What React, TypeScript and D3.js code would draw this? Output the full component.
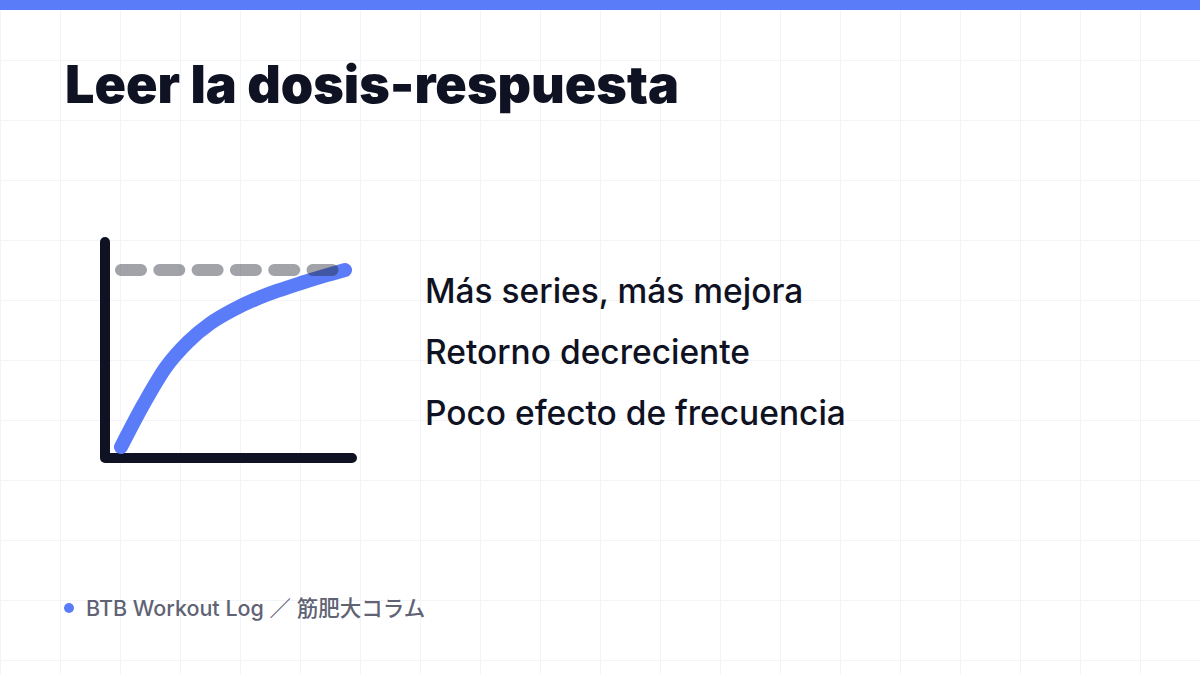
import { scaleLinear, line as d3Line, curveMonotoneX, range } from 'd3';

// dose (sets) vs. response
const doses = [0, 1, 2, 3, 4, 5, 6, 7, 8, 9, 10];
const responses = [0, 24, 45, 59.5, 70, 77.5, 83.5, 88.3, 92.5, 96.4, 100];
const plateau = 100;

const title = 'Leer la dosis-respuesta';
const bullets = ['Más series, más mejora', 'Retorno decreciente', 'Poco efecto de frecuencia'];
const footer = 'BTB Workout Log ／ 筋肥大コラム';

const W = 1200;
const H = 675;
const BLUE = '#5b7cf9';
const INK = '#0f1222';
const FONT = 'Inter, "Noto Sans CJK JP", sans-serif';

// axes box of the little diagram
const BOX = { left: 105, right: 352, top: 242, bottom: 458 };

const App = () => {
  const xScale = scaleLinear().domain([0, 10]).range([121, 345]);
  const yScale = scaleLinear().domain([0, 100]).range([447, 270]);

  const curve = d3Line<number>()
    .x((_, i) => xScale(doses[i]))
    .y((d) => yScale(d))
    .curve(curveMonotoneX);

  const gridX = range(0, W + 1, 60);
  const gridY = range(0, H + 1, 60);

  return (
    <svg
      width={W}
      height={H}
      viewBox={`0 0 ${W} ${H}`}
      style={{ position: 'absolute', left: 0, top: 0, display: 'block' }}
    >
      <rect width={W} height={H} fill="#ffffff" />

      {/* background grid */}
      <g stroke="#f3f4f7" strokeWidth={1}>
        {gridX.map((x) => (
          <line key={'gx' + x} x1={x + 0.5} x2={x + 0.5} y1={0} y2={H} />
        ))}
        {gridY.map((y) => (
          <line key={'gy' + y} x1={0} x2={W} y1={y + 0.5} y2={y + 0.5} />
        ))}
      </g>

      <rect width={W} height={10} fill={BLUE} />

      <text
        x={65}
        y={103}
        fontFamily={FONT}
        fontWeight={900}
        fontSize={52}
        letterSpacing={0}
        fill={INK}
      >
        {title}
      </text>

      {/* axes */}
      <path
        d={`M${BOX.left},${BOX.top} L${BOX.left},${BOX.bottom} L${BOX.right},${BOX.bottom}`}
        fill="none"
        stroke={INK}
        strokeWidth={10}
        strokeLinecap="round"
        strokeLinejoin="round"
      />

      {/* response curve */}
      <path
        d={curve(responses) ?? ''}
        fill="none"
        stroke={BLUE}
        strokeWidth={14}
        strokeLinecap="round"
        strokeLinejoin="round"
      />

      {/* plateau */}
      <line
        x1={xScale(0)}
        x2={xScale(10)}
        y1={yScale(plateau)}
        y2={yScale(plateau)}
        stroke="#1f2430"
        strokeOpacity={0.42}
        strokeWidth={12}
        strokeLinecap="round"
        strokeDasharray="20 18.3"
      />

      {bullets.map((b, i) => (
        <text
          key={b}
          x={425}
          y={303 + i * 61}
          fontFamily={FONT}
          fontWeight={500}
          fontSize={33.5}
          fill={INK}
        >
          {b}
        </text>
      ))}

      <circle cx={69} cy={608} r={5} fill={BLUE} />
      <text
        x={86}
        y={616}
        fontFamily={FONT}
        fontWeight={500}
        fontSize={21.5}
        fill="#5f6374"
      >
        {footer}
      </text>
    </svg>
  );
};

export default App;
